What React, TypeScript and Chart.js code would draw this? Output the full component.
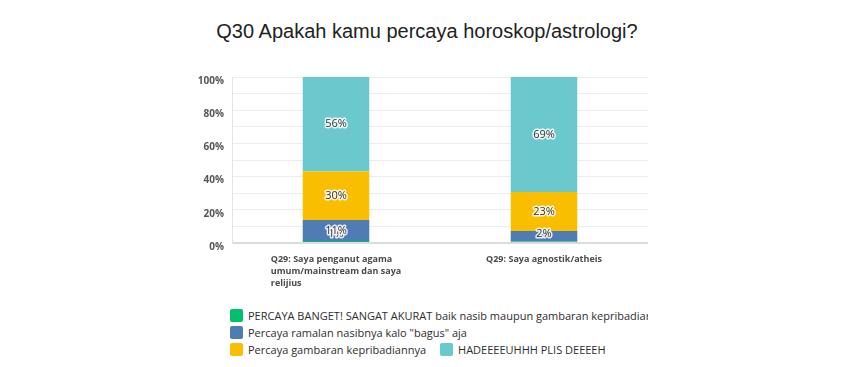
import React, { useEffect, useRef } from "react";
import { Chart, registerables } from "chart.js";

Chart.register(...registerables);

const TITLE = "Q30 Apakah kamu percaya horoskop/astrologi?";
const categories = [
  ["Q29: Saya penganut agama", "umum/mainstream dan saya", "relijius"],
  ["Q29: Saya agnostik/atheis"],
];
const seriesNames = [
  "PERCAYA BANGET! SANGAT AKURAT baik nasib maupun gambaran kepribadiannya",
  "Percaya ramalan nasibnya kalo \"bagus\" aja",
  "Percaya gambaran kepribadiannya",
  "HADEEEEUHHH PLIS DEEEEH",
];
const colors = ["#00bf6f", "#507cb6", "#f9be00", "#6bc8cd"];
const greenValues = [1.2, 0.9];
const blueValues = [12.6, 6.3];
const yellowValues = [29.3, 23.5];
const tealValues = [56.9, 69.3];
const greenLabels = ["1%", ""];
const blueLabels = ["11%", "2%"];
const yellowLabels = ["30%", "23%"];
const tealLabels = ["56%", "69%"];
const yTicks = [0, 20, 40, 60, 80, 100];

const seriesValues = [greenValues, blueValues, yellowValues, tealValues];
const seriesLabels = [greenLabels, blueLabels, yellowLabels, tealLabels];

const labelPlugin = {
  id: "segLabels",
  afterDatasetsDraw(chart: any) {
    const ctx = chart.ctx;
    ctx.save();
    ctx.font = "11px 'Open Sans', sans-serif";
    ctx.textAlign = "center";
    ctx.textBaseline = "middle";
    ctx.lineJoin = "round";
    chart.data.datasets.forEach((ds: any, di: number) => {
      const meta = chart.getDatasetMeta(di);
      meta.data.forEach((el: any, i: number) => {
        const txt = seriesLabels[di][i];
        if (!txt) return;
        let cy = (el.y + el.base) / 2;
        cy = Math.min(cy, el.base - 8);
        ctx.strokeStyle = "rgba(255,255,255,0.85)";
        ctx.lineWidth = 3;
        ctx.strokeText(txt, el.x, cy);
        ctx.fillStyle = "#333";
        ctx.fillText(txt, el.x, cy);
      });
    });
    ctx.restore();
  },
  afterDraw(chart: any) {
    const ctx = chart.ctx;
    const xs = chart.scales.x;
    const top = chart.chartArea.bottom + 16;
    ctx.save();
    ctx.font = "bold 9px 'Open Sans', sans-serif";
    ctx.fillStyle = "#4a4a4a";
    ctx.textAlign = "left";
    ctx.textBaseline = "middle";
    categories.forEach((lines, i) => {
      const cx = xs.getPixelForValue(i);
      const w = Math.max(...lines.map((l) => ctx.measureText(l).width));
      lines.forEach((l, j) => {
        ctx.fillText(l, cx - w / 2, top + j * 12);
      });
    });
    ctx.restore();
  },
};

export default function App() {
  const ref = useRef<HTMLCanvasElement>(null);
  useEffect(() => {
    if (!ref.current) return;
    const chart = new Chart(ref.current, {
      type: "bar",
      data: {
        labels: categories.map((c) => c.join(" ")),
        datasets: seriesValues.map((vals, i) => ({
          label: seriesNames[i],
          data: vals,
          backgroundColor: colors[i],
          borderWidth: 0,
          categoryPercentage: 1,
          barPercentage: 0.32,
        })),
      },
      options: {
        responsive: false,
        animation: false,
        layout: { padding: { left: 180, right: 206, top: 77, bottom: 0 } },
        plugins: {
          legend: { display: false },
          tooltip: { enabled: false },
          title: { display: false },
        },
        scales: {
          x: {
            stacked: true,
            grid: { display: false },
            border: { display: false },
            ticks: { display: false },
            afterFit: (s: any) => {
              s.height = 57;
            },
          },
          y: {
            stacked: true,
            min: 0,
            max: 100,
            ticks: {
              stepSize: 10,
              color: "#555",
              font: { family: "'Open Sans', sans-serif", size: 10, weight: "bold" },
              padding: 8,
              labelOffset: 4,
              callback: (v: any) => (yTicks.includes(Number(v)) ? `${v}%` : ""),
            },
            grid: {
              drawTicks: false,
              color: (c: any) => (c.tick && c.tick.value === 0 ? "#dcdcdc" : "#ededed"),
              lineWidth: (c: any) => (c.tick && c.tick.value === 0 ? 2 : 1),
            },
            border: { display: true, color: "#e3e3e3" },
            afterFit: (s: any) => {
              s.width = 52;
            },
          },
        },
      },
      plugins: [labelPlugin],
    });
    return () => chart.destroy();
  }, []);

  const legendRow = (idx: number[]) => (
    <div style={{ display: "flex", alignItems: "center", height: 17, whiteSpace: "nowrap" }}>
      {idx.map((i, k) => (
        <span key={i} style={{ display: "inline-flex", alignItems: "center", marginLeft: k > 0 ? 14 : 0 }}>
          <span
            style={{
              display: "inline-block",
              width: 13,
              height: 13,
              borderRadius: 2,
              background: colors[i],
              marginRight: 5,
            }}
          />
          <span>{seriesNames[i]}</span>
        </span>
      ))}
    </div>
  );

  return (
    <div style={{ position: "fixed", left: 0, top: 0, width: 854, height: 367, background: "#fff", overflow: "hidden" }}>
      <div
        style={{
          position: "absolute",
          left: 0,
          width: 854,
          top: 18,
          textAlign: "center",
          fontFamily: "'Liberation Sans', Arial, sans-serif",
          fontSize: 20,
          lineHeight: "26px",
          color: "#222",
        }}
      >
        {TITLE}
      </div>
      <canvas ref={ref} width={854} height={300} style={{ position: "absolute", left: 0, top: 0 }} />
      <div
        style={{
          position: "absolute",
          left: 230,
          top: 307,
          width: 418,
          overflow: "hidden",
          fontFamily: "'Open Sans', sans-serif",
          fontSize: 11,
          color: "#2e2e2e",
        }}
      >
        {legendRow([0])}
        {legendRow([1])}
        {legendRow([2, 3])}
      </div>
    </div>
  );
}
